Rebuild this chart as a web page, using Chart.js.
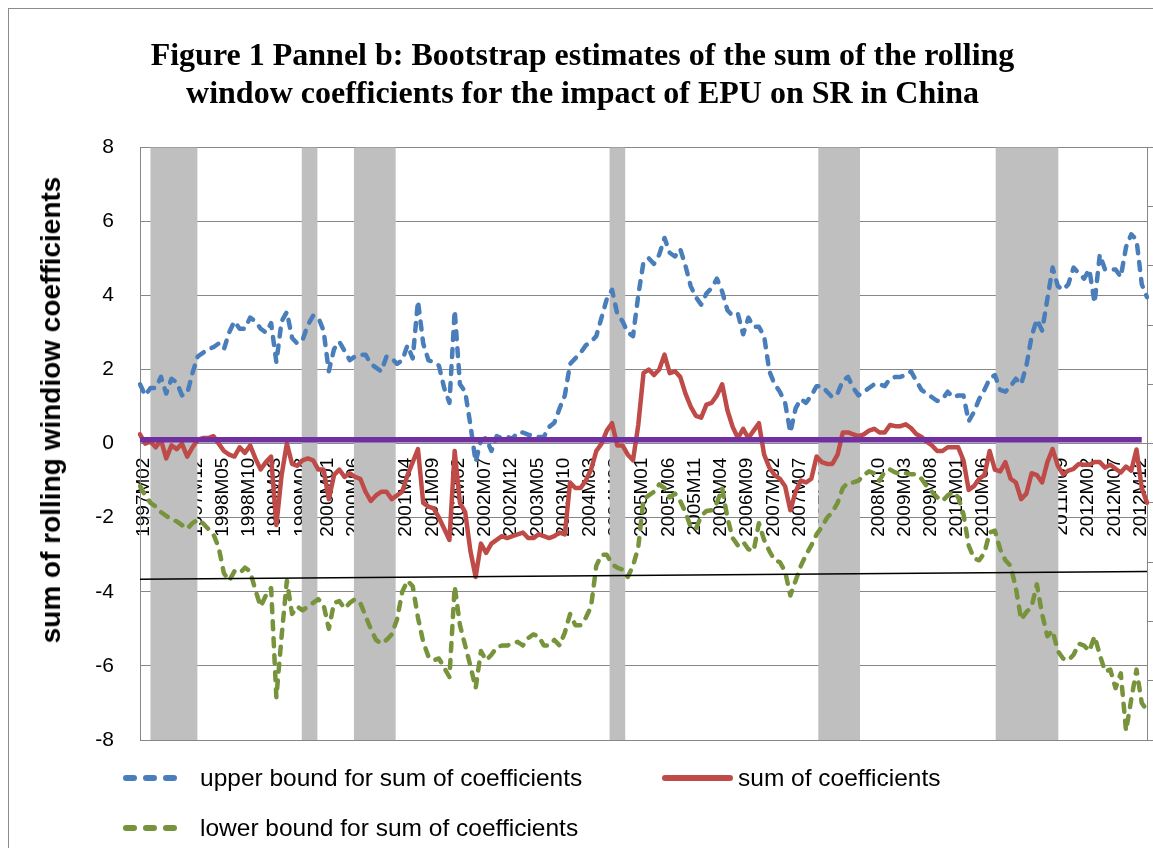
<!DOCTYPE html>
<html>
<head>
<meta charset="utf-8">
<script src="https://cdn.jsdelivr.net/npm/chart.js@4.4.1/dist/chart.umd.min.js"></script>
<style>
html, body { margin: 0; padding: 0; background: #fff; overflow: hidden; }
#wrap { position: relative; width: 1153px; height: 848px; overflow: hidden; }
#frame { position: absolute; left: 8px; top: 8px; width: 1200px; height: 900px; border: 1.5px solid #8c8c8c; }
#chart { position: absolute; left: 0; top: 0; }
#ytitle { position: absolute; left: 51px; top: 410px; transform: translate(-50%, -50%) rotate(-90deg);
          font: bold 28px 'Liberation Sans', Arial, sans-serif; color: #000; white-space: nowrap; }
.leg { position: absolute; font: 24.5px 'Liberation Sans', Arial, sans-serif; color: #000; white-space: nowrap; line-height: 30px; }
.leg svg { position: absolute; }
</style>
</head>
<body>
<div id="wrap">
  <div id="frame"></div>
  <canvas id="chart" width="1153" height="848"></canvas>
  <div id="ytitle">sum of rolling windiow coefficients</div>
  <div class="leg" style="left:122px; top:763px;">
    <svg width="60" height="12" style="left:0; top:9px;"><line x1="4" y1="6" x2="56" y2="6" stroke="#4A7EBB" stroke-width="6" stroke-linecap="round" stroke-dasharray="8 12"/></svg>
    <span style="position:absolute; left:78px;">upper bound for sum of coefficients</span>
  </div>
  <div class="leg" style="left:660px; top:763px;">
    <svg width="76" height="12" style="left:0; top:9px;"><line x1="5" y1="6" x2="70" y2="6" stroke="#BE4B48" stroke-width="6" stroke-linecap="round"/></svg>
    <span style="position:absolute; left:78px;">sum of coefficients</span>
  </div>
  <div class="leg" style="left:122px; top:813px;">
    <svg width="60" height="12" style="left:0; top:9px;"><line x1="4" y1="6" x2="56" y2="6" stroke="#77933C" stroke-width="6" stroke-linecap="round" stroke-dasharray="8 12"/></svg>
    <span style="position:absolute; left:78px;">lower bound for sum of coefficients</span>
  </div>
</div>
<script>
// Monthly categories 1997M02 .. 2013M02, every 5th month is labelled
const firstYear = 1997;
const firstMonth = 2;
const monthCount = 193;
const months = [];
for (let k = 0; k < monthCount; k++) {
    const m = firstMonth - 1 + k;
    months.push((firstYear + Math.floor(m / 12)) + 'M' + String(m % 12 + 1).padStart(2, '0'));
}
const labelEvery = 5;
const lastLabelIndex = 190;

const upperBound = [
    1.6, 1.3, 1.5, 1.5, 1.8, 1.35, 1.75, 1.65, 1.3, 1.35,
    1.9, 2.35, 2.45, 2.55, 2.6, 2.7, 2.55, 3.0, 3.3, 3.1,
    3.1, 3.4, 3.3, 3.1, 3.0, 3.25, 2.2, 3.3, 3.55, 2.85,
    2.7, 2.8, 3.2, 3.45, 3.4, 3.05, 1.95, 2.55, 2.75, 2.5,
    2.25, 2.35, 2.4, 2.4, 2.15, 2.05, 1.95, 2.35, 2.3, 2.15,
    2.25, 2.65, 2.3, 3.85, 2.7, 2.25, 2.2, 2.1, 1.5, 1.1,
    3.6, 1.6, 1.4, 0.5, -0.5, 0.1, 0.15, -0.2, 0.2, 0.15,
    0.18, 0.13, 0.3, 0.3, 0.24, 0.22, 0.18, 0.18, 0.45, 0.56,
    0.95, 1.3, 2.15, 2.3, 2.45, 2.65, 2.75, 2.9, 3.4, 3.9,
    4.15, 3.5, 3.3, 3.0, 2.9, 4.0, 4.9, 5.0, 4.85, 5.1,
    5.55, 5.15, 5.05, 5.25, 4.8, 4.25, 3.95, 3.75, 4.05, 4.2,
    4.45, 4.1, 3.6, 3.45, 3.5, 2.95, 3.4, 3.15, 3.15, 2.9,
    1.95, 1.6, 1.4, 1.1, 0.3, 0.95, 1.2, 1.1, 1.3, 1.55,
    1.55, 1.4, 1.25, 1.35, 1.7, 1.8, 1.5, 1.3, 1.4, 1.5,
    1.6, 1.6, 1.55, 1.75, 1.8, 1.8, 1.85, 1.95, 1.7, 1.45,
    1.35, 1.25, 1.15, 1.2, 1.4, 1.25, 1.3, 1.3, 0.6, 0.85,
    1.2, 1.45, 1.75, 1.85, 1.45, 1.4, 1.55, 1.75, 1.6, 2.1,
    2.9, 3.35, 3.05, 3.9, 4.75, 4.25, 4.15, 4.3, 4.75, 4.6,
    4.45, 4.7, 3.8, 5.1, 4.7, 4.7, 4.7, 4.5, 5.3, 5.65,
    5.5, 4.3, 3.95
];

const sumCoef = [
    0.25, 0.0, 0.05, -0.1, 0.1, -0.4, -0.05, -0.15, 0.0, -0.35,
    -0.1, 0.1, 0.15, 0.15, 0.2, 0.0, -0.2, -0.3, -0.35, -0.1,
    -0.25, -0.05, -0.4, -0.7, -0.5, -0.35, -2.2, -0.85, 0.0, -0.55,
    -0.6, -0.45, -0.4, -0.45, -0.7, -0.7, -1.5, -0.85, -0.7, -0.9,
    -0.8, -0.9, -0.95, -1.3, -1.55, -1.4, -1.3, -1.3, -1.5, -1.4,
    -1.3, -0.85, -0.5, -0.15, -1.6, -1.7, -1.75, -2.0, -2.3, -2.6,
    -0.2, -1.6, -1.85, -2.9, -3.6, -2.7, -2.95, -2.7, -2.6, -2.5,
    -2.55, -2.5, -2.45, -2.4, -2.55, -2.55, -2.45, -2.5, -2.55, -2.5,
    -2.4, -2.45, -1.05, -1.2, -1.2, -1.0, -0.7, -0.2, 0.0, 0.35,
    0.55, -0.05, -0.05, -0.3, -0.45, 0.5, 1.9, 2.0, 1.85, 2.0,
    2.4, 1.9, 1.95, 1.8, 1.35, 1.0, 0.75, 0.7, 1.05, 1.1,
    1.3, 1.6, 0.9, 0.45, 0.15, 0.4, 0.15, 0.35, 0.55, -0.3,
    -0.65, -0.85, -0.95, -1.15, -1.8, -1.3, -1.0, -1.05, -0.95, -0.35,
    -0.5, -0.55, -0.55, -0.3, 0.3, 0.3, 0.25, 0.2, 0.25, 0.35,
    0.4, 0.3, 0.3, 0.5, 0.47, 0.47, 0.52, 0.42, 0.26, 0.18,
    0.05, -0.05, -0.2, -0.2, -0.1, -0.1, -0.1, -0.45, -1.25, -1.15,
    -0.95, -0.85, -0.2, -0.7, -0.75, -0.5, -0.95, -1.05, -1.5, -1.35,
    -0.8, -0.85, -1.05, -0.5, -0.15, -0.6, -0.83, -0.73, -0.68, -0.55,
    -0.57, -0.57, -0.5, -0.5, -0.65, -0.57, -0.68, -0.78, -0.62, -0.73,
    -0.16, -1.2, -1.6
];

const lowerBound = [
    -1.15, -1.4, -1.6, -1.7, -1.85, -1.95, -2.05, -2.1, -2.2, -2.3,
    -2.15, -2.05, -2.15, -2.3, -2.45, -2.8, -3.5, -3.7, -3.45, -3.5,
    -3.35, -3.45, -3.95, -4.4, -4.1, -3.9, -6.85, -5.2, -3.7, -4.6,
    -4.4, -4.5, -4.4, -4.3, -4.2, -4.35, -5.0, -4.3, -4.25, -4.45,
    -4.3, -4.2, -4.3, -4.65, -5.0, -5.3, -5.4, -5.3, -5.15, -4.75,
    -4.0, -3.7, -3.85, -4.7, -5.35, -5.75, -5.85, -5.8, -6.05, -6.3,
    -3.85, -4.9, -5.45, -6.0, -6.6, -5.6, -5.85, -5.7, -5.5, -5.45,
    -5.45, -5.4, -5.35, -5.45, -5.25, -5.15, -5.2, -5.45, -5.45, -5.3,
    -5.45, -5.1, -4.6, -4.9, -4.9, -4.7, -4.4, -3.3, -3.0, -3.0,
    -3.25, -3.35, -3.4, -3.6, -3.3, -2.8, -1.5, -1.4, -1.3, -1.1,
    -1.2, -1.45, -1.35, -1.55, -1.85, -2.25, -2.3, -1.95, -1.82, -1.8,
    -1.6, -1.2, -2.0, -2.55, -2.75, -2.65, -2.85, -2.9, -2.15, -2.6,
    -2.9, -3.15, -3.2, -3.45, -4.1, -3.7, -3.3, -3.0, -2.75, -2.45,
    -2.25, -2.0, -1.85, -1.6, -1.2, -1.05, -1.05, -1.0, -0.85, -0.75,
    -0.8, -1.0, -0.75, -0.7, -0.78, -0.83, -0.8, -0.83, -0.83, -0.95,
    -1.15, -1.3, -1.45, -1.55, -1.4, -1.3, -1.45, -1.9, -2.75, -3.1,
    -3.15, -2.95, -2.4, -2.35, -2.85, -3.15, -3.3, -3.9, -4.75, -4.55,
    -4.4, -3.8, -4.6, -5.2, -5.05, -5.6, -5.8, -5.85, -5.7, -5.4,
    -5.45, -5.6, -5.2, -5.7, -6.15, -6.1, -6.6, -6.2, -7.75, -6.9,
    -6.1, -7.0, -7.2
];

// shaded periods (grey columns on the secondary axis)
const shadeStart = ['1997M04', '1999M09', '2000M07', '2004M08', '2007M12', '2010M10'];
const shadeEnd   = ['1997M12', '1999M11', '2001M02', '2004M10', '2008M07', '2011M09'];

// purple reference line and black straight line
const refLine = [{ x: '1997M02', y: 0.1 }, { x: '2013M01', y: 0.1 }];
const trendLine = [{ x: '1997M02', y: -3.66 }, { x: '2013M02', y: -3.45 }];

const shade = months.map((m, i) => {
    for (let k = 0; k < shadeStart.length; k++) {
        if (i >= months.indexOf(shadeStart[k]) && i <= months.indexOf(shadeEnd[k])) return 1;
    }
    return 0;
});

Chart.defaults.font.family = "'Liberation Sans', Arial, sans-serif";
Chart.defaults.color = '#000';

const gridGray = '#878787';
const dashed = [8, 9];

new Chart(document.getElementById('chart'), {
    type: 'line',
    data: {
        labels: months,
        datasets: [
            {
                label: 'shade',
                data: shade,
                xAxisID: 'x2',
                yAxisID: 'y2',
                stepped: 'middle',
                borderColor: 'rgba(0,0,0,0)',
                borderWidth: 0,
                backgroundColor: '#BFBFBF',
                fill: 'start',
                pointRadius: 0,
                order: 10
            },
            {
                label: 'upper bound for sum of coefficients',
                data: upperBound,
                borderColor: '#4A7EBB',
                borderWidth: 4.5,
                borderDash: dashed,
                borderCapStyle: 'round',
                borderJoinStyle: 'round',
                pointRadius: 0,
                tension: 0,
                order: 5
            },
            {
                label: 'sum of coefficients',
                data: sumCoef,
                borderColor: '#BE4B48',
                borderWidth: 4.5,
                borderCapStyle: 'round',
                borderJoinStyle: 'round',
                pointRadius: 0,
                tension: 0,
                order: 4
            },
            {
                label: 'lower bound for sum of coefficients',
                data: lowerBound,
                borderColor: '#77933C',
                borderWidth: 4.5,
                borderDash: dashed,
                borderCapStyle: 'round',
                borderJoinStyle: 'round',
                pointRadius: 0,
                tension: 0,
                order: 3
            },
            {
                label: 'trend',
                data: trendLine,
                borderColor: '#000',
                borderWidth: 1.5,
                pointRadius: 0,
                spanGaps: true,
                order: 2
            },
            {
                label: 'zero',
                data: refLine,
                borderColor: '#7030A0',
                borderWidth: 5.5,
                pointRadius: 0,
                spanGaps: true,
                order: 1
            }
        ]
    },
    options: {
        responsive: false,
        animation: false,
        events: [],
        layout: { padding: { left: 12, top: 0, right: 0, bottom: 108 } },
        plugins: {
            legend: { display: false },
            tooltip: { enabled: false },
            title: {
                display: true,
                text: ['Figure 1 Pannel b: Bootstrap estimates of the sum of the rolling',
                       'window coefficients for the impact of EPU on SR in China'],
                font: { family: "'Liberation Serif', 'Times New Roman', serif", size: 32, weight: 'bold', lineHeight: 1.19 },
                color: '#000',
                padding: { top: 38, bottom: 33 }
            }
        },
        scales: {
            x: {
                type: 'category',
                position: { y: 0 },
                offset: false,
                grid: { display: false, drawTicks: true, tickLength: 14 },
                border: { display: true, color: gridGray },
                ticks: {
                    autoSkip: false,
                    minRotation: 90,
                    maxRotation: 90,
                    padding: 0,
                    labelOffset: 4,
                    font: { size: 19 },
                    color: '#000',
                    callback: (v, i) => (i % labelEvery === 0 && i <= lastLabelIndex) ? months[i] : null
                },
                afterFit: (scale) => { scale.paddingLeft = 0; scale.paddingRight = 0; }
            },
            x2: {
                type: 'category',
                offset: true,
                display: false
            },
            y: {
                min: -8,
                max: 8,
                ticks: { stepSize: 2, padding: 26, font: { size: 21 }, color: '#000' },
                grid: { color: gridGray, lineWidth: 1, drawTicks: false },
                border: { color: gridGray },
                afterFit: (scale) => { scale.width = 128; }
            },
            y2: {
                position: 'right',
                min: 0,
                max: 1,
                ticks: { display: false, stepSize: 0.1 },
                grid: { drawOnChartArea: false, color: gridGray, tickLength: 6 },
                border: { color: gridGray },
                afterFit: (scale) => { scale.width = 6; }
            }
        }
    }
});
</script>
</body>
</html>
